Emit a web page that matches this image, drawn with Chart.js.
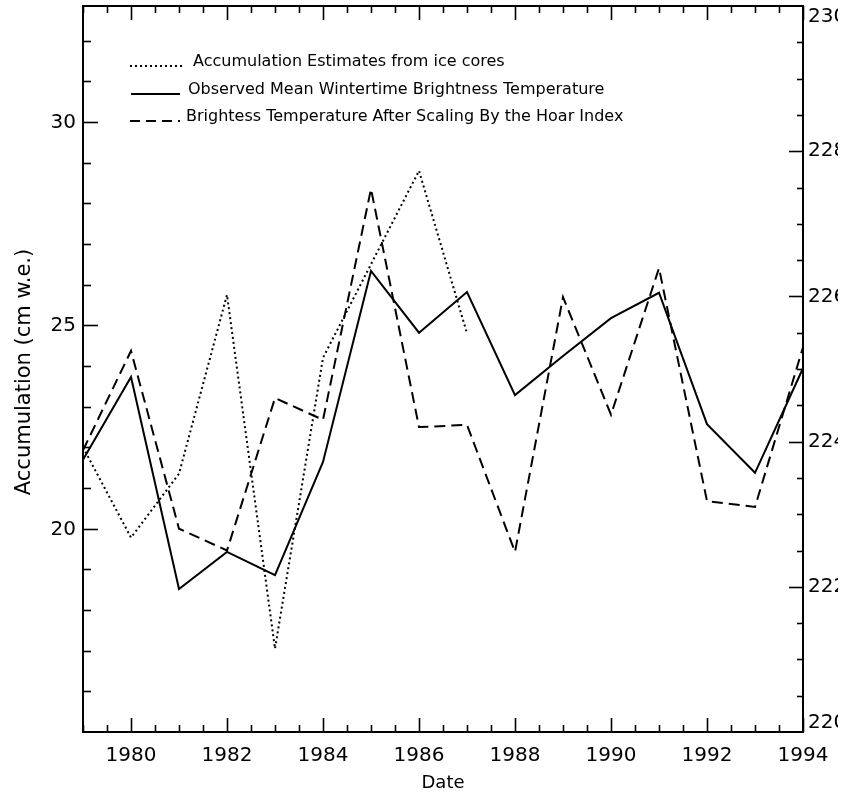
<!DOCTYPE html>
<html>
<head>
<meta charset="utf-8">
<script src="https://cdn.jsdelivr.net/npm/chart.js@4/dist/chart.umd.min.js"></script>
<style>
  html, body { margin: 0; padding: 0; background: #ffffff; }
  canvas { display: block; }
</style>
</head>
<body>
<canvas id="chart" width="845" height="795"></canvas>
<script>
// Years on the x axis
const years = [1979, 1980, 1981, 1982, 1983, 1984, 1985, 1986, 1987,
               1988, 1989, 1990, 1991, 1992, 1993, 1994];

// Ice-core accumulation (cm w.e.), 1979-1987, left axis
const accumulation = [22.0, 19.78, 21.35, 25.75, 17.05, 24.2, 26.5, 28.8, 24.8];

// Observed mean wintertime brightness temperature (K), right axis
const observedTb = [223.75, 224.89, 221.97, 222.48, 222.16, 223.72, 226.35, 225.5,
                    226.06, 224.64, 225.18, 225.70, 226.05, 224.24, 223.57, 225.01];

// Brightness temperature after scaling by the hoar index (K), right axis
const scaledTb = [223.88, 225.25, 222.8, 222.5, 224.6, 224.3, 227.48, 224.2,
                  224.23, 222.48, 225.99, 224.37, 226.39, 223.18, 223.1, 225.3];

// Tick labels
const xTickLabels = ['1980', '1982', '1984', '1986', '1988', '1990', '1992', '1994'];
const leftTickLabels = ['20', '25', '30'];
const rightTickLabels = ['220', '222', '224', '226', '228', '230'];

const legendLabels = [
  'Accumulation Estimates from ice cores',
  'Observed Mean Wintertime Brightness Temperature',
  'Brightess Temperature After Scaling By the Hoar Index'
];

const toPoints = (vals) => vals.map((v, i) => ({ x: years[i], y: v }));

const FONT = '"DejaVu Sans", "Liberation Sans", sans-serif';

// Frame, inward ticks, tick labels, axis titles and legend
const framePlugin = {
  id: 'idlFrame',
  afterDraw(chart) {
    const { ctx, chartArea: a, scales } = chart;
    const x = scales.x, yl = scales.yL, yr = scales.yR;
    ctx.save();
    ctx.strokeStyle = '#000';
    ctx.fillStyle = '#000';
    ctx.lineWidth = 2;
    ctx.setLineDash([]);
    ctx.strokeRect(a.left, a.top, a.right - a.left, a.bottom - a.top);

    ctx.lineWidth = 1.6;
    // bottom and top ticks every half year, long every two years
    for (let v = 1979; v <= 1994.001; v += 0.5) {
      const px = Math.round(x.getPixelForValue(v)) + 0.5;
      const major = Math.abs(v % 2) < 1e-6;
      const len = major ? 14 : 7;
      ctx.beginPath();
      ctx.moveTo(px, a.bottom); ctx.lineTo(px, a.bottom - len);
      ctx.moveTo(px, a.top); ctx.lineTo(px, a.top + len);
      ctx.stroke();
    }
    // left ticks every 1, long every 5
    for (let v = 16; v <= 32; v += 1) {
      const py = Math.round(yl.getPixelForValue(v)) + 0.5;
      const len = v % 5 === 0 ? 15 : 8;
      ctx.beginPath();
      ctx.moveTo(a.left, py); ctx.lineTo(a.left + len, py);
      ctx.stroke();
    }
    // right ticks every 0.5, long every 2
    for (let v = 220.5; v < 230; v += 0.5) {
      const py = Math.round(yr.getPixelForValue(v)) + 0.5;
      const major = Math.abs(v % 2) < 1e-6;
      const len = major ? 14 : 6;
      ctx.beginPath();
      ctx.moveTo(a.right, py); ctx.lineTo(a.right - len, py);
      ctx.stroke();
    }

    // tick labels
    ctx.font = '20px ' + FONT;
    ctx.textBaseline = 'middle';
    ctx.textAlign = 'center';
    xTickLabels.forEach(t => {
      ctx.fillText(t, x.getPixelForValue(Number(t)), a.bottom + 24);
    });
    ctx.textAlign = 'right';
    leftTickLabels.forEach(t => {
      ctx.fillText(t, a.left - 7, yl.getPixelForValue(Number(t)) + 1);
    });
    // right-hand labels run past the page edge and are cut off
    ctx.save();
    ctx.beginPath();
    ctx.rect(a.right, 0, 35, chart.height);
    ctx.clip();
    ctx.textAlign = 'left';
    rightTickLabels.forEach(t => {
      let py = yr.getPixelForValue(Number(t));
      py = Math.min(Math.max(py, a.top + 11), a.bottom - 9);
      ctx.fillText(t, a.right + 5, py);
    });
    ctx.restore();

    // axis titles
    ctx.font = '18px ' + FONT;
    ctx.textAlign = 'center';
    ctx.fillText('Date', (a.left + a.right) / 2, 783);
    ctx.save();
    ctx.font = '21px ' + FONT;
    ctx.translate(25, 372);
    ctx.rotate(-Math.PI / 2);
    ctx.fillText('Accumulation (cm w.e.)', 0, 0);
    ctx.restore();

    // legend
    const rows = [62, 90, 117];
    const styles = [
      { dash: [2, 3], x0: 130, x1: 183 },
      { dash: [], x0: 131, x1: 180 },
      { dash: [10, 6], x0: 130, x1: 180 }
    ];
    const textX = [193, 188, 186];
    ctx.font = '16px ' + FONT;
    ctx.textAlign = 'left';
    rows.forEach((ry, i) => {
      ctx.lineWidth = 2;
      ctx.setLineDash(styles[i].dash);
      ctx.beginPath();
      ctx.moveTo(styles[i].x0, ry + 4);
      ctx.lineTo(styles[i].x1, ry + 4);
      ctx.stroke();
      ctx.setLineDash([]);
      ctx.fillText(legendLabels[i], textX[i], ry);
    });
    ctx.restore();
  }
};

new Chart(document.getElementById('chart'), {
  type: 'line',
  data: {
    datasets: [
      {
        label: legendLabels[0],
        data: toPoints(accumulation),
        yAxisID: 'yL',
        borderColor: '#000',
        borderWidth: 2,
        borderDash: [2, 3],
        pointRadius: 0,
        tension: 0
      },
      {
        label: legendLabels[1],
        data: toPoints(observedTb),
        yAxisID: 'yR',
        borderColor: '#000',
        borderWidth: 2,
        pointRadius: 0,
        tension: 0
      },
      {
        label: legendLabels[2],
        data: toPoints(scaledTb),
        yAxisID: 'yR',
        borderColor: '#000',
        borderWidth: 2,
        borderDash: [11, 6],
        pointRadius: 0,
        tension: 0
      }
    ]
  },
  options: {
    responsive: false,
    animation: false,
    layout: { padding: { left: 83, right: 42, top: 6, bottom: 63 } },
    plugins: { legend: { display: false }, tooltip: { enabled: false } },
    scales: {
      x: { type: 'linear', min: 1979, max: 1994, display: false },
      yL: { type: 'linear', position: 'left', min: 15, max: 32.85, display: false },
      yR: { type: 'linear', position: 'right', min: 220, max: 230, display: false }
    }
  },
  plugins: [framePlugin]
});
</script>
</body>
</html>
